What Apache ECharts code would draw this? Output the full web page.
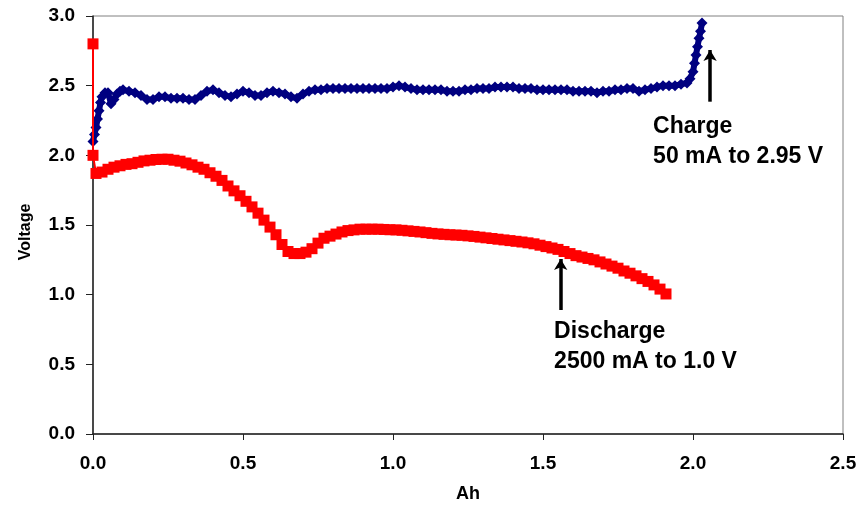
<!DOCTYPE html>
<html>
<head>
<meta charset="utf-8">
<script src="https://cdn.jsdelivr.net/npm/echarts@6/dist/echarts.min.js"></script>
<style>
  html, body { margin: 0; padding: 0; background: #fff; }
  #chart { width: 867px; height: 509px; }
</style>
</head>
<body>
<div id="chart"></div>
<script>
// Charge curve (50 mA to 2.95 V)
const chargeAh = [
  0.000, 0.005, 0.010, 0.015, 0.020, 0.025, 0.030, 0.040, 0.050, 0.060,
  0.070, 0.080, 0.090, 0.100, 0.120, 0.140, 0.160, 0.180, 0.200, 0.220,
  0.240, 0.260, 0.280, 0.300, 0.320, 0.340, 0.360, 0.380, 0.400, 0.420,
  0.440, 0.460, 0.480, 0.500, 0.520, 0.540, 0.560, 0.580, 0.600, 0.620,
  0.640, 0.660, 0.680, 0.700, 0.720, 0.740, 0.760, 0.780, 0.800, 0.820,
  0.840, 0.860, 0.880, 0.900, 0.920, 0.940, 0.960, 0.980, 1.000, 1.020,
  1.040, 1.060, 1.080, 1.100, 1.120, 1.140, 1.160, 1.180, 1.200, 1.220,
  1.240, 1.260, 1.280, 1.300, 1.320, 1.340, 1.360, 1.380, 1.400, 1.420,
  1.440, 1.460, 1.480, 1.500, 1.520, 1.540, 1.560, 1.580, 1.600, 1.620,
  1.640, 1.660, 1.680, 1.700, 1.720, 1.740, 1.760, 1.780, 1.800, 1.820,
  1.840, 1.860, 1.880, 1.900, 1.920, 1.940, 1.960, 1.980, 1.990, 2.000,
  2.005, 2.010, 2.015, 2.020, 2.025, 2.030
];
const chargeV = [
  2.10, 2.15, 2.20, 2.26, 2.32, 2.38, 2.42, 2.45, 2.45, 2.37,
  2.40, 2.44, 2.46, 2.47, 2.46, 2.45, 2.43, 2.40, 2.40, 2.42,
  2.42, 2.41, 2.41, 2.41, 2.40, 2.40, 2.43, 2.46, 2.47, 2.45,
  2.43, 2.42, 2.44, 2.46, 2.45, 2.43, 2.43, 2.45, 2.46, 2.45,
  2.44, 2.42, 2.41, 2.44, 2.46, 2.47, 2.47, 2.48, 2.48, 2.48,
  2.48, 2.48, 2.48, 2.48, 2.48, 2.48, 2.48, 2.48, 2.49, 2.50,
  2.49, 2.48, 2.47, 2.47, 2.47, 2.47, 2.47, 2.46, 2.46, 2.46,
  2.47, 2.47, 2.48, 2.48, 2.48, 2.49, 2.49, 2.49, 2.49, 2.48,
  2.48, 2.48, 2.47, 2.47, 2.47, 2.47, 2.47, 2.47, 2.46, 2.46,
  2.46, 2.46, 2.45, 2.46, 2.46, 2.47, 2.47, 2.48, 2.48, 2.46,
  2.47, 2.48, 2.49, 2.50, 2.50, 2.50, 2.51, 2.52, 2.55, 2.60,
  2.66, 2.72, 2.78, 2.84, 2.89, 2.95
];

// Discharge curve (2500 mA to 1.0 V)
const dischargeAh = [
  0.00, 0.00, 0.01, 0.03, 0.05, 0.07, 0.09, 0.11, 0.13, 0.15,
  0.17, 0.19, 0.21, 0.23, 0.25, 0.27, 0.29, 0.31, 0.33, 0.35,
  0.37, 0.39, 0.41, 0.43, 0.45, 0.47, 0.49, 0.51, 0.53, 0.55,
  0.57, 0.59, 0.61, 0.63, 0.65, 0.67, 0.69, 0.71, 0.73, 0.75,
  0.77, 0.79, 0.81, 0.83, 0.85, 0.87, 0.89, 0.91, 0.93, 0.95,
  0.97, 0.99, 1.01, 1.03, 1.05, 1.07, 1.09, 1.11, 1.13, 1.15,
  1.17, 1.19, 1.21, 1.23, 1.25, 1.27, 1.29, 1.31, 1.33, 1.35,
  1.37, 1.39, 1.41, 1.43, 1.45, 1.47, 1.49, 1.51, 1.53, 1.55,
  1.57, 1.59, 1.61, 1.63, 1.65, 1.67, 1.69, 1.71, 1.73, 1.75,
  1.77, 1.79, 1.81, 1.83, 1.85, 1.87, 1.89, 1.91
];
const dischargeV = [
  2.80, 2.00, 1.87, 1.88, 1.90, 1.915, 1.925, 1.935, 1.94, 1.95,
  1.96, 1.965, 1.97, 1.972, 1.972, 1.965, 1.958, 1.945, 1.932, 1.915,
  1.90, 1.875, 1.85, 1.82, 1.78, 1.745, 1.71, 1.67, 1.63, 1.585,
  1.535, 1.485, 1.43, 1.36, 1.31, 1.295, 1.295, 1.305, 1.33, 1.37,
  1.405, 1.42, 1.435, 1.45, 1.46, 1.465, 1.47, 1.47, 1.47, 1.47,
  1.468, 1.466, 1.465, 1.462, 1.458, 1.454, 1.45, 1.445, 1.44, 1.436,
  1.433, 1.43, 1.428, 1.426, 1.422, 1.418, 1.413, 1.408, 1.403, 1.398,
  1.393, 1.388, 1.383, 1.378, 1.372, 1.365, 1.355, 1.345, 1.335, 1.325,
  1.31, 1.295, 1.28, 1.27, 1.26, 1.25, 1.235, 1.22, 1.205, 1.19,
  1.17, 1.154, 1.135, 1.115, 1.095, 1.07, 1.04, 1.005
];

// Callout texts and their anchors (Ah, Voltage)
const noteTexts = ['Charge\n50 mA to 2.95 V', 'Discharge\n2500 mA to 1.0 V'];
const noteAnchors = [[1.867, 2.31], [1.537, 0.84]];
// Arrows: [x, from V, to V]
const arrows = [[2.057, 2.385, 2.756], [1.559, 0.89, 1.256]];

const FONT = 'Liberation Sans, Arial, sans-serif';

const zip = (xs, ys) => xs.map((x, i) => [x, ys[i]]);

const chart = echarts.init(document.getElementById('chart'), null, { renderer: 'canvas' });

chart.setOption({
  animation: false,
  backgroundColor: '#ffffff',
  grid: {
    left: 93, right: 24, top: 16, bottom: 75,
    show: true, borderColor: '#808080', borderWidth: 1, backgroundColor: 'transparent'
  },
  xAxis: {
    type: 'value', min: 0, max: 2.5, interval: 0.5,
    name: 'Ah', nameLocation: 'middle', nameGap: 51,
    nameTextStyle: { fontFamily: FONT, fontWeight: 'bold', fontSize: 18, color: '#000' },
    axisLine: { show: true, lineStyle: { color: '#222', width: 1.5 } },
    axisTick: { show: true, inside: false, length: 6, lineStyle: { color: '#222' } },
    axisLabel: {
      margin: 20, fontFamily: FONT, fontWeight: 'bold', fontSize: 19, color: '#000',
      formatter: v => v.toFixed(1)
    },
    splitLine: { show: false }
  },
  yAxis: {
    type: 'value', min: 0, max: 3, interval: 0.5,
    name: 'Voltage', nameLocation: 'middle', nameGap: 59, nameRotate: 90,
    nameTextStyle: { fontFamily: FONT, fontWeight: 'bold', fontSize: 16, color: '#000', padding: [0, 14, 0, 0] },
    axisLine: { show: true, lineStyle: { color: '#222', width: 1.5 } },
    axisTick: { show: true, inside: false, length: 7, lineStyle: { color: '#222' } },
    axisLabel: {
      margin: 18, fontFamily: FONT, fontWeight: 'bold', fontSize: 19, color: '#000',
      formatter: v => v.toFixed(1)
    },
    splitLine: { show: false }
  },
  series: [
    {
      name: 'Charge', type: 'line',
      data: zip(chargeAh, chargeV),
      symbol: 'diamond', symbolSize: 11, showAllSymbol: true,
      itemStyle: { color: '#000080' },
      lineStyle: { color: '#000080', width: 6 },
      z: 2
    },
    {
      name: 'Discharge', type: 'line',
      data: zip(dischargeAh, dischargeV),
      symbol: 'rect', symbolSize: 11, showAllSymbol: true,
      itemStyle: { color: '#ff0000' },
      lineStyle: { color: '#ff0000', width: 2 },
      z: 3
    },
    {
      name: 'Notes', type: 'scatter',
      data: [],
      z: 4,
      markPoint: {
        symbol: 'circle', symbolSize: 0,
        itemStyle: { color: 'rgba(0,0,0,0)' },
        label: {
          show: true, position: [0, 0], align: 'left', verticalAlign: 'top',
          fontFamily: FONT, fontWeight: 'bold', fontSize: 23, lineHeight: 30, color: '#000'
        },
        data: noteAnchors.map((c, i) => ({ coord: c, value: noteTexts[i], label: { formatter: noteTexts[i] } }))
      },
      markLine: {
        silent: true,
        symbol: ['none', 'arrow'], symbolSize: [10, 11],
        lineStyle: { color: '#000', width: 3.5, type: 'solid' },
        label: { show: false },
        data: arrows.map(a => [{ coord: [a[0], a[1]] }, { coord: [a[0], a[2]] }])
      }
    }
  ]
});
</script>
</body>
</html>
